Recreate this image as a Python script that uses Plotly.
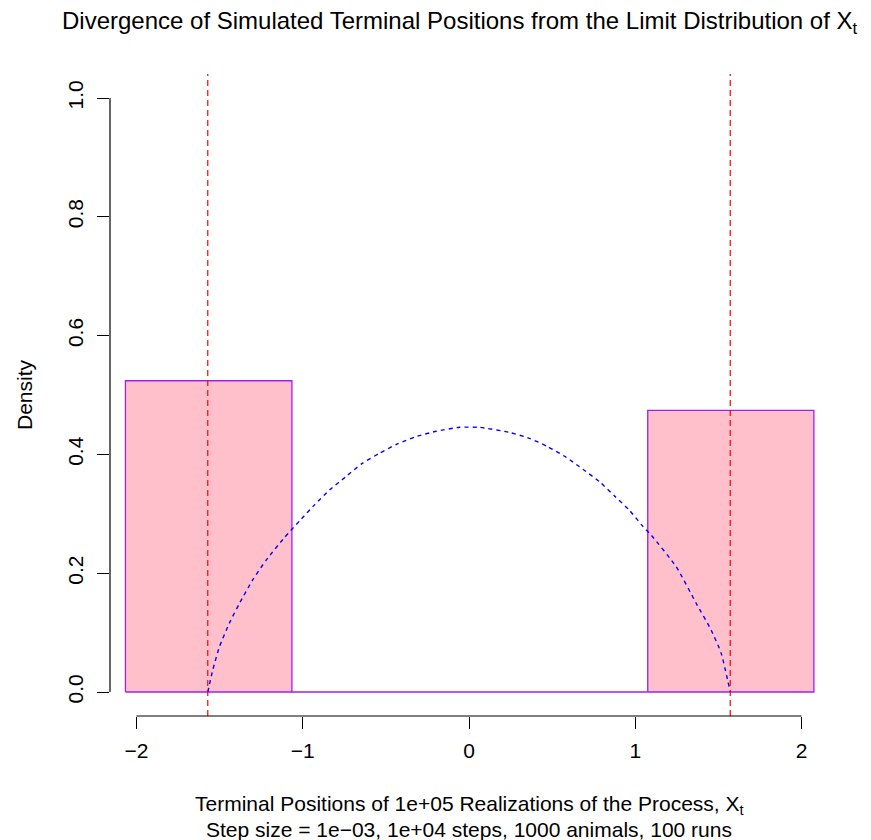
import plotly.graph_objects as go

# ---- data ----
bin_edges = [-2.066, -1.065, 1.075, 2.074]
bin_density = [0.524, 0.0, 0.474]

limit_bounds = [-1.571, 1.571]

curve_x = [-1.571, -1.541, -1.501, -1.441, -1.381, -1.300, -1.220, -1.110, -1.009,
           -0.929, -0.839, -0.743, -0.642, -0.538, -0.428, -0.318, -0.197, -0.057,
           0.063, 0.244, 0.364, 0.474, 0.585, 0.685, 0.785, 0.875, 0.965, 1.045,
           1.096, 1.246, 1.367, 1.457, 1.517, 1.571]
curve_y = [0.0, 0.037, 0.076, 0.116, 0.149, 0.189, 0.222, 0.260, 0.291,
           0.315, 0.340, 0.362, 0.385, 0.402, 0.418, 0.430, 0.439, 0.4456,
           0.4456, 0.437, 0.427, 0.413, 0.395, 0.375, 0.354, 0.330, 0.306, 0.279,
           0.264, 0.211, 0.149, 0.104, 0.065, 0.0]

x_ticks = [-2, -1, 0, 1, 2]
x_ticktext = ["\u22122", "\u22121", "0", "1", "2"]
y_ticks = [0.0, 0.2, 0.4, 0.6, 0.8, 1.0]
y_ticktext = ["0.0", "0.2", "0.4", "0.6", "0.8", "1.0"]

title_text = "Divergence of Simulated Terminal Positions from the Limit Distribution of X<sub>t</sub>"
xlab1 = "Terminal Positions of 1e+05 Realizations of the Process, X<sub>t</sub>"
xlab2 = "Step size = 1e\u221203, 1e+04 steps, 1000 animals, 100 runs"
ylab = "Density"

FONT = "Liberation Sans, Arial, Helvetica, sans-serif"
FS = 21

fig = go.Figure()

# histogram bins as closed polygons
hx, hy = [], []
for i, h in enumerate(bin_density):
    l, r = bin_edges[i], bin_edges[i + 1]
    hx += [l, l, r, r, l, None]
    hy += [0, h, h, 0, 0, None]
fig.add_trace(go.Scatter(x=hx, y=hy, mode="lines", fill="toself",
                         fillcolor="#FFC0CB", line=dict(color="#A020F0", width=1.3),
                         hoverinfo="skip", showlegend=False))

# limit density curve
fig.add_trace(go.Scatter(x=curve_x, y=curve_y, mode="lines",
                         line=dict(color="blue", width=1.4, dash="4px,4px", shape="spline", smoothing=0.5),
                         showlegend=False))

# red vertical lines at the bounds
for b in limit_bounds:
    fig.add_shape(type="line", xref="x", yref="paper", x0=b, x1=b, y0=0, y1=1,
                  line=dict(color="red", width=1.2, dash="6px,4px"))

# R-style axis lines
fig.add_shape(type="line", xref="x", yref="paper", x0=x_ticks[0], x1=x_ticks[-1], y0=0, y1=0,
              line=dict(color="black", width=1.2))
fig.add_shape(type="line", xref="paper", yref="y", x0=0, x1=0, y0=y_ticks[0], y1=y_ticks[-1],
              line=dict(color="black", width=1.2))

fig.update_layout(
    width=871, height=840,
    margin=dict(l=110, r=43, t=74, b=124),
    paper_bgcolor="white", plot_bgcolor="white",
    font=dict(family=FONT, size=FS, color="black"),
    xaxis=dict(range=[-2.159, 2.159], tickvals=x_ticks, ticktext=x_ticktext,
               ticks="outside", ticklen=12, tickwidth=1.2, tickcolor="black",
               showline=False, showgrid=False, zeroline=False,
               tickfont=dict(size=FS), ticklabelstandoff=4),
    yaxis=dict(range=[-0.0404, 1.0404], tickvals=y_ticks, ticktext=y_ticktext,
               ticks="outside", ticklen=12, tickwidth=1.2, tickcolor="black",
               showline=False, showgrid=False, zeroline=False, tickangle=-90,
               tickfont=dict(size=FS), ticklabelstandoff=6),
    showlegend=False,
)

annos = [
    dict(text=title_text, x=(460 - 110) / 718, y=(716 - 23) / 642, font=dict(size=24)),
    dict(text=xlab1, x=0.5, y=(716 - 805) / 642, font=dict(size=FS)),
    dict(text=xlab2, x=0.5, y=(716 - 829) / 642, font=dict(size=FS)),
]
for a in annos:
    fig.add_annotation(xref="paper", yref="paper", xanchor="center", yanchor="middle",
                       showarrow=False, **a)
fig.add_annotation(text=ylab, xref="paper", yref="paper", x=(24 - 110) / 718, y=0.5,
                   xanchor="center", yanchor="middle", textangle=-90, showarrow=False,
                   font=dict(size=FS))

fig.write_html("out.html")
